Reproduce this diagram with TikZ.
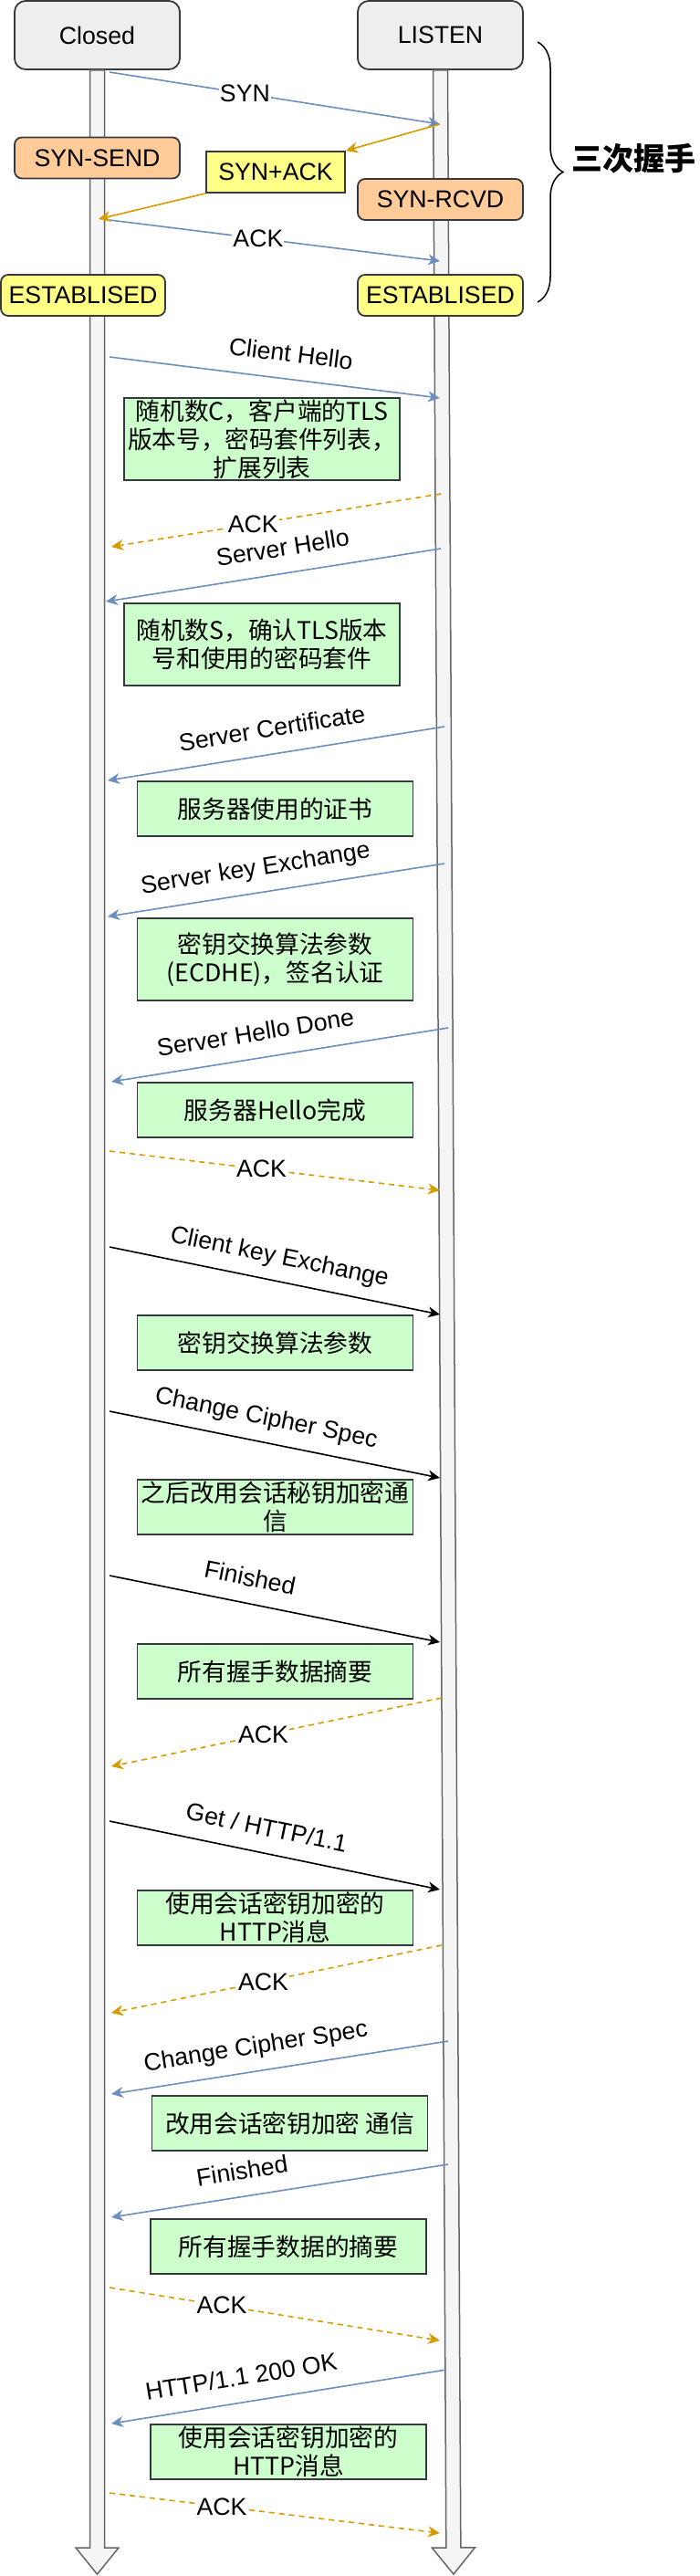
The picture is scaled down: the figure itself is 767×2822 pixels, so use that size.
\documentclass[tikz,border=0pt]{standalone}
\usepackage{fontspec}
\setmainfont{Liberation Sans}
\newfontfamily\cjk{Noto Sans CJK SC}
\usetikzlibrary{arrows.meta,calc,decorations.pathreplacing}

\definecolor{boxline}{HTML}{36393D}
\definecolor{lanefill}{HTML}{F5F5F5}
\definecolor{laneline}{HTML}{666666}
\definecolor{headfill}{HTML}{EEEEEE}
\definecolor{statefill}{HTML}{FFCC99}
\definecolor{estfill}{HTML}{FFFF88}
\definecolor{notefill}{HTML}{CCFFCC}
\definecolor{msgblue}{HTML}{6C8EBF}
\definecolor{ackorange}{HTML}{D79B00}

% block arrow from #1 down to its tip #2
\newcommand\lifeline[2]{%
 \coordinate (hb) at ($(#2)!29pt!(#1)$);
 \draw[lane] ($(#1)!8pt!90:(#2)$) -- ($(hb)!8pt!-90:(#1)$) -- ($(hb)!23.5pt!-90:(#1)$)
   -- (#2) -- ($(hb)!23.5pt!90:(#1)$) -- ($(hb)!8pt!90:(#1)$) -- ($(#1)!8pt!-90:(#2)$) -- cycle;}

\tikzset{
 every node/.style={font=\fontsize{26.7}{31}\selectfont},
 lane/.style={draw=laneline,fill=lanefill,line width=1.5pt},
 box/.style={draw=boxline,line width=1.8pt,minimum width=181pt,minimum height=45pt,inner sep=0pt},
 head/.style={box,fill=headfill,minimum height=75pt,rounded corners=12pt},
 state/.style={box,fill=statefill,rounded corners=8pt},
 estab/.style={box,fill=estfill,rounded corners=8pt},
 note/.style={box,fill=notefill,minimum width=302pt,minimum height=60pt,align=center,
   font=\cjk\fontsize{26.7}{31}\selectfont},
 tip/.style={-{Stealth[length=13pt,width=12pt,inset=4pt]}},
 bluemsg/.style={tip,draw=msgblue,line width=1.6pt},
 blackmsg/.style={tip,draw=black,line width=1.6pt},
 orangemsg/.style={tip,draw=ackorange,line width=1.6pt},
 ackmsg/.style={orangemsg,dash pattern=on 6pt off 5pt},
 lbl/.style={sloped,above=10pt,inner sep=2pt,text height=19pt,text depth=6pt},
 flat/.style={fill=white,inner sep=1pt},
}

\begin{document}
\begin{tikzpicture}[x=1pt,y=-1pt]
 \useasboundingbox (0,0) rectangle (767,2822);

 \node[head] (closed) at (106.5,38.5) {Closed};
 \node[head] (listen) at (482.5,38.5) {LISTEN};
 \coordinate (ltip) at (106.5,2820);
 \coordinate (rtip) at (497,2820);
 \lifeline{closed.south}{ltip}
 \lifeline{listen.south}{rtip}

 % three-way handshake
 \node[state] (synsend) at (106.5,173) {SYN-SEND};
 \node[box,fill=estfill,minimum width=152pt] (synack) at (302,188.5) {SYN+ACK};
 \node[state] (synrcvd) at (482.5,218.5) {SYN-RCVD};
 \node[estab,minimum width=180pt] (estl) at (91,323.5) {ESTABLISED};
 \node[estab] (estr) at (482.5,323.5) {ESTABLISED};
 \draw[line width=1.5pt,decorate,decoration={brace,amplitude=28pt}] (589,46) -- (589,331);
 \node[font=\cjk\bfseries\fontsize{34}{40}\selectfont] (hs) at (694,174) {三次握手};

 % TLS notes
 \node[note] (n1) at (287,481) [minimum height=90pt] {随机数C，客户端的TLS\\版本号，密码套件列表，\\扩展列表};
 \node[note] (n2) at (287,706) [minimum height=90pt] {随机数S，确认TLS版本\\号和使用的密码套件};
 \node[note] (n3) at (301.5,886) {服务器使用的证书};
 \node[note] (n4) at (301.5,1051) [minimum height=90pt] {密钥交换算法参数\\(ECDHE)，签名认证};
 \node[note] (n5) at (301.5,1216) {服务器Hello完成};
 \node[note] (n6) at (301.5,1471) {密钥交换算法参数};
 \node[note] (n7) at (301.5,1651) {之后改用会话秘钥加密通\\信};
 \node[note] (n8) at (301.5,1831) {所有握手数据摘要};
 \node[note] (n9) at (301.5,2101) {使用会话密钥加密的\\HTTP消息};
 \node[note] (n10) at (317.5,2326) {改用会话密钥加密 通信};
 \node[note] (n11) at (316,2461) {所有握手数据的摘要};
 \node[note] (n12) at (316,2686) {使用会话密钥加密的\\HTTP消息};

 % messages
 \foreach \n/\xa/\ya/\xb/\yb/\p/\sty/\lb/\txt in {
   syn/120/79/482/136/.41/bluemsg/flat/SYN,
   ack0/120/241/482/286/.45/bluemsg/flat/ACK,
   chello/120/391/482/436/.54/bluemsg/lbl/Client Hello,
   ack1/483/541/122/599/.57/ackmsg/flat/ACK,
   shello/483/601/116/659/.46/bluemsg/lbl/Server Hello,
   scert/487/796/118/855/.5/bluemsg/lbl/Server Certificate,
   skey/487/946/118/1004/.55/bluemsg/lbl/Server key Exchange,
   sdone/491/1126/122/1185/.56/bluemsg/lbl/Server Hello Done,
   ack2/120/1261/482/1304/.46/ackmsg/flat/ACK,
   ckey/120/1366/482/1440/.5/blackmsg/lbl/Client key Exchange,
   cspec/120/1546/482/1619/.46/blackmsg/lbl/Change Cipher Spec,
   cfin/120/1726/482/1799/.41/blackmsg/lbl/Finished,
   ack3/484/1860/122/1935/.54/ackmsg/flat/ACK,
   get/120/1995/482/2070/.46/blackmsg/lbl/{Get / HTTP/1.1},
   ack4/484/2131/122/2205/.54/ackmsg/flat/ACK,
   sspec/491/2236/122/2294/.56/bluemsg/lbl/Change Cipher Spec,
   sfin/491/2371/122/2429/.6/bluemsg/lbl/Finished,
   ack5/120/2506/482/2564/.34/ackmsg/flat/ACK,
   ok/489/2596/122/2655/.6/bluemsg/lbl/{HTTP/1.1 200 OK},
   ack6/120/2731/482/2775/.34/ackmsg/flat/ACK}
 {
   \coordinate (\n-a) at (\xa,\ya);
   \coordinate (\n-b) at (\xb,\yb);
   \draw[\sty] (\n-a) -- node[\lb,pos=\p] {\txt} (\n-b);
 }
 \coordinate (synack-b) at (108,240);
 \draw[orangemsg] (syn-b) -- (synack.north east);
 \draw[orangemsg] (synack.south west) -- (synack-b);
\end{tikzpicture}
\end{document}
